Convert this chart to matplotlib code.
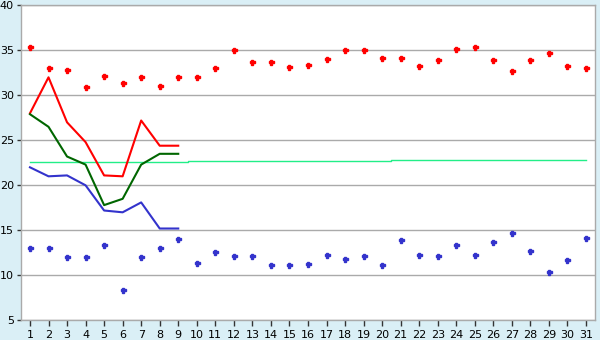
import matplotlib
matplotlib.use("Agg")
import matplotlib.pyplot as plt

days = list(range(1, 32))

max_points = [35.4, 33.0, 32.8, 30.9, 32.2, 31.4, 32.0, 31.0, 32.0, 32.0,
              33.0, 35.0, 33.7, 33.7, 33.2, 33.4, 34.0, 35.0, 35.0, 34.1,
              34.1, 33.3, 33.9, 35.2, 35.4, 33.9, 32.7, 33.9, 34.7, 33.3, 33.0]
min_points = [13.0, 13.0, 12.0, 12.0, 13.4, 8.4, 12.0, 13.0, 14.0, 11.4,
              12.6, 12.2, 12.2, 11.1, 11.2, 11.3, 12.3, 11.8, 12.2, 11.2,
              13.9, 12.3, 12.2, 13.4, 12.3, 13.7, 14.7, 12.7, 10.4, 11.7, 14.2]

line_days = list(range(1, 10))
red_line = [28.0, 32.0, 27.0, 24.8, 21.1, 21.0, 27.2, 24.4, 24.4]
green_line = [27.9, 26.5, 23.2, 22.3, 17.8, 18.5, 22.3, 23.5, 23.5]
blue_line = [22.0, 21.0, 21.1, 20.0, 17.2, 17.0, 18.1, 15.2, 15.2]

norm_values = [22.56] * 9 + [22.67] * 11 + [22.78] * 11

y_ticks = [5, 10, 15, 20, 25, 30, 35, 40]

bg = '#daeff6'
fig = plt.figure(figsize=(6, 3.4), dpi=100, facecolor=bg)
ax = fig.add_axes([0.0345, 0.0579, 0.9576, 0.9265])
ax.set_facecolor('white')

ax.plot(days, norm_values, color='#22ee88', lw=1.0, drawstyle='steps-mid', zorder=2)
ax.plot(line_days, red_line, color='#ff0000', lw=1.5, zorder=3)
ax.plot(line_days, green_line, color='#006600', lw=1.5, zorder=3)
ax.plot(line_days, blue_line, color='#3333cc', lw=1.5, zorder=3)
ax.plot(days, max_points, ls='none', marker='P', ms=3.6, color='#ff0000',
        mec='#ff0000', zorder=4)
ax.plot(days, min_points, ls='none', marker='P', ms=3.6, color='#3333cc',
        mec='#3333cc', zorder=4)

ax.set_xlim(0.5, 31.5)
ax.set_ylim(5, 40)
ax.set_xticks(days)
ax.set_xticklabels([str(d) for d in days])
ax.set_yticks(y_ticks)
ax.yaxis.grid(True, color='#aaaaaa', lw=1.0)
ax.set_axisbelow(True)
for s in ax.spines.values():
    s.set_color('#aaaaaa')
    s.set_linewidth(1.0)
ax.tick_params(axis='both', colors='#333333', labelcolor='black', labelsize=8,
               length=3, width=1, pad=2)
ax.tick_params(axis='x', length=4, pad=3)

fig.savefig('out.png', dpi=100, facecolor=bg)
